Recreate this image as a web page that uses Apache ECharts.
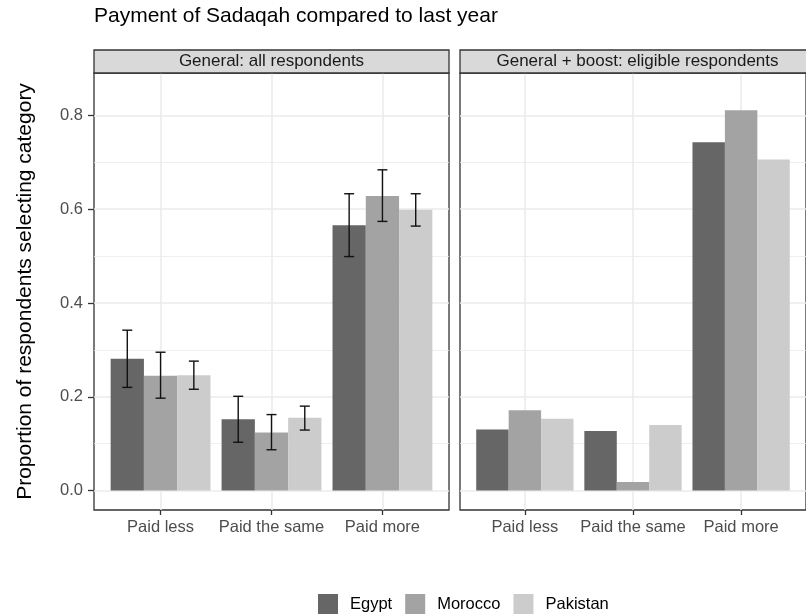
<!DOCTYPE html>
<html>
<head>
<meta charset="utf-8">
<script src="https://cdn.jsdelivr.net/npm/echarts@6/dist/echarts.min.js"></script>
<style>
  html, body { margin: 0; padding: 0; background: #fff; }
  #chart { width: 806px; height: 616px; }
</style>
</head>
<body>
<div id="chart"></div>
<script>
// Categories, groups and panel titles
const categories = ['Paid less', 'Paid the same', 'Paid more'];
const countries = ['Egypt', 'Morocco', 'Pakistan'];
const panelTitles = ['General: all respondents', 'General + boost: eligible respondents'];
const yTicks = [0, 0.2, 0.4, 0.6, 0.8];
const yMinorTicks = [0.1, 0.3, 0.5, 0.7];

// Panel 1: all respondents, proportion with confidence interval
const allEgypt = [0.281, 0.152, 0.566];
const allEgyptLow = [0.220, 0.103, 0.499];
const allEgyptHigh = [0.342, 0.201, 0.633];
const allMorocco = [0.245, 0.124, 0.628];
const allMoroccoLow = [0.197, 0.087, 0.574];
const allMoroccoHigh = [0.295, 0.162, 0.684];
const allPakistan = [0.246, 0.155, 0.599];
const allPakistanLow = [0.216, 0.129, 0.564];
const allPakistanHigh = [0.276, 0.180, 0.633];

// Panel 2: general + boost, eligible respondents
const boostEgypt = [0.130, 0.127, 0.743];
const boostMorocco = [0.171, 0.018, 0.811];
const boostPakistan = [0.153, 0.140, 0.706];

const fills = ['#666666', '#A3A3A3', '#CCCCCC'];
const dodge = [-0.3, 0, 0.3];
const barW = 0.3;
const capW = 0.09;

const panels = [
  { values: [allEgypt, allMorocco, allPakistan],
    low: [allEgyptLow, allMoroccoLow, allPakistanLow],
    high: [allEgyptHigh, allMoroccoHigh, allPakistanHigh] },
  { values: [boostEgypt, boostMorocco, boostPakistan], low: null, high: null }
];

const FONT = 'Liberation Sans, Arial, sans-serif';
const gridLeft = [94, 460];
const gridTop = 73, gridH = 437, gridW = 355;
const yMin = -0.0415, yMax = 0.8905;

function makeRender(k) {
  return function (params, api) {
    const x = api.value(0) + dodge[k];
    const v = api.value(1);
    const a = api.coord([x - barW / 2, v]);
    const b = api.coord([x + barW / 2, 0]);
    const children = [{
      type: 'rect',
      shape: { x: a[0], y: a[1], width: b[0] - a[0], height: b[1] - a[1] },
      style: { fill: fills[k] }
    }];
    const lo = api.value(2), hi = api.value(3);
    if (!isNaN(lo) && !isNaN(hi)) {
      const t = api.coord([x, hi]);
      const bt = api.coord([x, lo]);
      const c0 = api.coord([x - capW / 2, hi]);
      const c1 = api.coord([x + capW / 2, hi]);
      const d0 = api.coord([x - capW / 2, lo]);
      const d1 = api.coord([x + capW / 2, lo]);
      const ls = { stroke: '#111111', lineWidth: 1.4 };
      children.push(
        { type: 'line', shape: { x1: t[0], y1: t[1], x2: bt[0], y2: bt[1] }, style: ls },
        { type: 'line', shape: { x1: c0[0], y1: c0[1], x2: c1[0], y2: c1[1] }, style: ls },
        { type: 'line', shape: { x1: d0[0], y1: d0[1], x2: d1[0], y2: d1[1] }, style: ls }
      );
    }
    return { type: 'group', children: children };
  };
}

const grids = [], xAxes = [], yAxes = [], series = [], graphics = [];

panels.forEach(function (panel, p) {
  grids.push({ left: gridLeft[p], top: gridTop, width: gridW, height: gridH,
    show: true, borderColor: '#333333', borderWidth: 1.3, backgroundColor: '#ffffff' });
  xAxes.push({
    type: 'value', gridIndex: p, min: 0.4, max: 3.6, position: 'bottom',
    axisLine: { show: false, onZero: false },
    splitLine: { show: false },
    axisTick: { show: true, customValues: [1, 2, 3], length: 5,
      lineStyle: { color: '#333333', width: 1.3 } },
    axisLabel: { show: true, customValues: [1, 2, 3], margin: 9,
      fontFamily: FONT, fontSize: 16.5, color: '#4D4D4D',
      formatter: function (v) { return categories[Math.round(v) - 1] || ''; } }
  });
  yAxes.push({
    type: 'value', gridIndex: p, min: yMin, max: yMax, position: 'left',
    axisLine: { show: false, onZero: false },
    splitLine: { show: false },
    axisTick: { show: p === 0, customValues: yTicks, length: 6,
      lineStyle: { color: '#333333', width: 1.3 } },
    axisLabel: { show: p === 0, customValues: yTicks, margin: 11,
      fontFamily: FONT, fontSize: 16.5, color: '#4D4D4D',
      formatter: function (v) { return v.toFixed(1); } },
    name: p === 0 ? 'Proportion of respondents selecting category' : '',
    nameLocation: 'middle', nameRotate: 90, nameGap: 58,
    nameTextStyle: { fontFamily: FONT, fontSize: 21, color: '#000000' }
  });

  // panel gridlines, kept beneath the bars
  const mk = [];
  yMinorTicks.forEach(function (v) { mk.push({ yAxis: v, lineStyle: { color: '#EBEBEB', width: 0.8, type: 'solid' } }); });
  yTicks.forEach(function (v) { mk.push({ yAxis: v, lineStyle: { color: '#EBEBEB', width: 1.6, type: 'solid' } }); });
  [1, 2, 3].forEach(function (v) { mk.push({ xAxis: v, lineStyle: { color: '#EBEBEB', width: 1.6, type: 'solid' } }); });
  series.push({
    type: 'line', xAxisIndex: p, yAxisIndex: p, data: [], z: 1, silent: true,
    markLine: { silent: true, z: 1, zlevel: 0, symbol: ['none', 'none'], label: { show: false },
      animation: false, data: mk }
  });

  countries.forEach(function (name, k) {
    const data = categories.map(function (c, i) {
      return [i + 1, panel.values[k][i],
        panel.low ? panel.low[k][i] : NaN,
        panel.high ? panel.high[k][i] : NaN];
    });
    series.push({
      type: 'custom', name: name, xAxisIndex: p, yAxisIndex: p, z: 3,
      itemStyle: { color: fills[k] },
      renderItem: makeRender(k),
      encode: { x: 0, y: 1 },
      data: data
    });
  });

  // facet strip
  graphics.push({
    type: 'rect', z: 10,
    shape: { x: gridLeft[p], y: 50, width: gridW, height: gridTop - 50 },
    style: { fill: '#D9D9D9', stroke: '#333333', lineWidth: 1.3 }
  });
  graphics.push({
    type: 'text', z: 11,
    x: gridLeft[p] + gridW / 2, y: 50 + (gridTop - 50) / 2,
    style: { text: panelTitles[p], fill: '#1A1A1A', fontSize: 17,
      fontFamily: FONT, align: 'center', verticalAlign: 'middle' }
  });
});

const chart = echarts.init(document.getElementById('chart'), null, { renderer: 'canvas' });
chart.setOption({
  animation: false,
  backgroundColor: '#ffffff',
  title: {
    text: 'Payment of Sadaqah compared to last year',
    left: 94, top: 6, padding: 0,
    textStyle: { fontFamily: FONT, fontSize: 21, fontWeight: 'normal', color: '#000000' }
  },
  legend: {
    data: countries, left: 313, top: 589, icon: 'rect',
    itemWidth: 20, itemHeight: 20, itemGap: 13,
    textStyle: { fontFamily: FONT, fontSize: 16.5, color: '#000000', padding: [0, 0, 0, 7] }
  },
  grid: grids,
  xAxis: xAxes,
  yAxis: yAxes,
  graphic: graphics,
  series: series
});
</script>
</body>
</html>
